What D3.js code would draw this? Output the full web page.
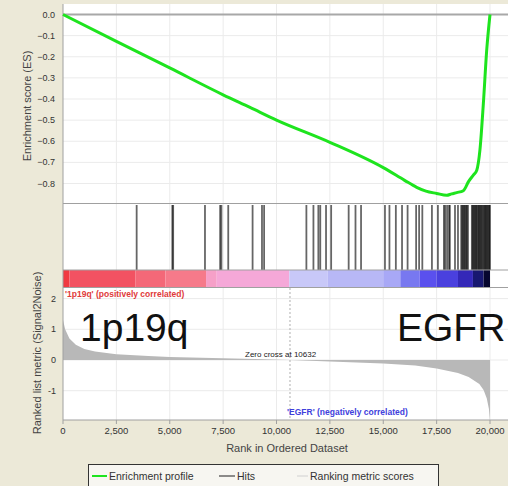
<!DOCTYPE html>
<html>
<head>
<meta charset="utf-8">
<script src="https://cdn.jsdelivr.net/npm/d3@7"></script>
<style>
body { margin: 0; background: #ece9d8; overflow: hidden; }
text { font-family: "Liberation Sans", Arial, sans-serif; }
</style>
</head>
<body>
<svg id="chart" width="508" height="486"></svg>
<script>
// running enrichment score
const esRanks  = [0, 2500, 5000, 7500, 8760, 10000, 12500, 15000, 16000, 16565, 17000, 17500, 17970, 18200, 18440, 18750, 19000, 19220, 19380, 19530, 19690, 19845, 20000]
const esValues = [0, -0.127, -0.253, -0.38, -0.44, -0.50, -0.605, -0.725, -0.785, -0.818, -0.836, -0.847, -0.856, -0.849, -0.843, -0.834, -0.79, -0.76, -0.737, -0.64, -0.42, -0.17, 0]

// positions of the gene set members in the ranked list
const hitRanks = [3450, 5120, 5160, 6650, 7360, 7420, 7740, 8880, 9320, 9420,
  11400, 11730, 11960, 12050, 12320, 12560, 13380, 13700, 13960,
  15080, 15290, 15590, 15880, 16140, 16540, 16680, 16830, 17280, 17560,
  17840, 17900, 17990, 18080, 18120, 18360, 18500,
  18650, 18700, 18740, 18790, 18830, 18880, 18920, 18970,
  19150, 19190, 19230, 19270, 19310, 19350, 19390, 19440, 19480, 19520,
  19560, 19600, 19640, 19690, 19730, 19770, 19810, 19850, 19890, 19930, 19970, 19995]

// ranked list metric (Signal2Noise)
const metricRanks  = [0, 100, 300, 600, 1000, 1500, 2500, 4000, 5000, 7000, 9000, 10632, 12500, 15000, 16500, 17500, 18500, 19000, 19500, 19700, 19850, 19950, 20000]
const metricValues = [1.3, 1.0, 0.7, 0.5, 0.36, 0.28, 0.19, 0.13, 0.1, 0.065, 0.03, 0, -0.05, -0.11, -0.18, -0.28, -0.42, -0.55, -0.78, -0.98, -1.25, -1.6, -1.97]

// colour bar blocks (end rank of each block)
const barEnds   = [300, 3400, 4800, 6700, 7200, 10600, 12400, 15000, 15800, 16700, 17500, 18500, 19200, 19700, 20000]
const barColors = ["#f03a42", "#f25262", "#f46878", "#f67a8a", "#f6a0c8", "#f5a8d8", "#c8c8f8", "#b8b8f6", "#a8a8f6", "#7878f0", "#5a50ee", "#4a40de", "#3428b8", "#181870", "#06062e"]

const xTicks = [0, 2500, 5000, 7500, 10000, 12500, 15000, 17500, 20000]
const esTicks = [0, -0.1, -0.2, -0.3, -0.4, -0.5, -0.6, -0.7, -0.8]
const metricTicks = [2, 1, 0, -1]
const zeroCross = 10632

let svg = d3.select("#chart")
let left = 63, right = 512
let x = d3.scaleLinear().domain([0, 20000]).range([63, 490])
let yES = d3.scaleLinear().domain([0, -0.8]).range([14.5, 183.5])
let yM = d3.scaleLinear().domain([0, 1]).range([360, 329.3])

svg.append("rect").attr("width", 508).attr("height", 486).attr("fill", "#ece9d8")
svg.append("rect")
   .attr("x", left).attr("y", 4)
   .attr("width", right - left).attr("height", 416)
   .attr("fill", "white")

// grid
svg.append("g").selectAll("line")
   .data(xTicks.slice(1))
   .join("line")
   .attr("x1", d => x(d)).attr("x2", d => x(d))
   .attr("y1", 4).attr("y2", 420)
   .style("stroke", "#ebebeb")
svg.append("g").selectAll("line")
   .data(esTicks.slice(1))
   .join("line")
   .attr("x1", left).attr("x2", right)
   .attr("y1", d => yES(d)).attr("y2", d => yES(d))
   .style("stroke", "#ebebeb")
svg.append("g").selectAll("line")
   .data(metricTicks)
   .join("line")
   .attr("x1", left).attr("x2", right)
   .attr("y1", d => yM(d)).attr("y2", d => yM(d))
   .style("stroke", "#ebebeb")

// zero line of ES
svg.append("line")
   .attr("x1", left).attr("x2", right)
   .attr("y1", yES(0)).attr("y2", yES(0))
   .style("stroke", "#a8a8a8").style("stroke-width", 2)

// metric area
let area = d3.area()
   .x((d, i) => x(metricRanks[i]))
   .y0(yM(0))
   .y1(d => yM(d))
svg.append("path")
   .datum(metricValues)
   .attr("d", area)
   .attr("fill", "#b8b8b8")

svg.append("line")
   .attr("x1", x(zeroCross)).attr("x2", x(zeroCross))
   .attr("y1", 288).attr("y2", 420)
   .style("stroke", "#b0b0b0").style("stroke-dasharray", "2,2")

// hits
svg.append("g").selectAll("line")
   .data(hitRanks)
   .join("line")
   .attr("x1", d => x(d)).attr("x2", d => x(d))
   .attr("y1", 205).attr("y2", 270)
   .style("stroke", "#000").style("stroke-width", 1.8)
   .style("stroke-opacity", 0.6)

// colour bar
svg.append("g").selectAll("rect")
   .data(barEnds)
   .join("rect")
   .attr("x", (d, i) => x(i == 0 ? 0 : barEnds[i - 1]))
   .attr("width", (d, i) => x(d) - x(i == 0 ? 0 : barEnds[i - 1]))
   .attr("y", 270).attr("height", 17)
   .attr("fill", (d, i) => barColors[i])

// panel borders
svg.append("g").selectAll("line")
   .data([203.5, 270, 287.5, 420])
   .join("line")
   .attr("x1", left).attr("x2", right)
   .attr("y1", d => d).attr("y2", d => d)
   .style("stroke", "#a0a0a0")
svg.append("line")
   .attr("x1", left).attr("x2", left)
   .attr("y1", 4).attr("y2", 420)
   .style("stroke", "#a0a0a0")

// ES curve
let line = d3.line()
   .x((d, i) => x(esRanks[i]))
   .y(d => yES(d))
   .curve(d3.curveMonotoneX)
svg.append("path")
   .datum(esValues)
   .attr("d", line)
   .attr("fill", "none")
   .style("stroke", "#1ee41e").style("stroke-width", 3)

// axes ticks and labels
svg.append("g").selectAll("line")
   .data(xTicks)
   .join("line")
   .attr("x1", d => x(d)).attr("x2", d => x(d))
   .attr("y1", 420).attr("y2", 424)
   .style("stroke", "#a0a0a0")
svg.append("g").selectAll("text")
   .data(xTicks)
   .join("text")
   .attr("x", d => x(d)).attr("y", 434)
   .attr("text-anchor", "middle")
   .style("font-size", "9.5px").style("fill", "#333")
   .text(d => d3.format(",")(d))
svg.append("g").selectAll("text")
   .data(esTicks)
   .join("text")
   .attr("x", 55).attr("y", d => yES(d) + 3)
   .attr("text-anchor", "end")
   .style("font-size", "9px").style("fill", "#333")
   .text(d => d3.format(".1f")(d))
svg.append("g").selectAll("text")
   .data(metricTicks)
   .join("text")
   .attr("x", 56).attr("y", d => yM(d) + 3)
   .attr("text-anchor", "end")
   .style("font-size", "9px").style("fill", "#333")
   .text(d => d)

svg.append("text")
   .attr("transform", "translate(31,106) rotate(-90)")
   .attr("text-anchor", "middle")
   .style("font-size", "11px").style("fill", "#444")
   .text("Enrichment score (ES)")
svg.append("text")
   .attr("transform", "translate(41,353) rotate(-90)")
   .attr("text-anchor", "middle")
   .style("font-size", "11px").style("fill", "#444")
   .text("Ranked list metric (Signal2Noise)")
svg.append("text")
   .attr("x", 287).attr("y", 452)
   .attr("text-anchor", "middle")
   .style("font-size", "11px").style("fill", "#444")
   .text("Rank in Ordered Dataset")

// annotations
svg.append("text")
   .attr("x", 65).attr("y", 297)
   .style("font-size", "8.5px").style("font-weight", "bold").style("fill", "#e03a3a")
   .text("'1p19q' (positively correlated)")
svg.append("text")
   .attr("x", 287).attr("y", 415)
   .style("font-size", "8.5px").style("font-weight", "bold").style("fill", "#4040dc")
   .text("'EGFR' (negatively correlated)")
svg.append("text")
   .attr("x", 245).attr("y", 357)
   .style("font-size", "8px").style("fill", "#222")
   .text("Zero cross at " + zeroCross)
svg.append("text")
   .attr("x", 80).attr("y", 341)
   .style("font-size", "39px").style("fill", "#111")
   .text("1p19q")
svg.append("text")
   .attr("x", 397).attr("y", 341)
   .style("font-size", "39px").style("fill", "#111")
   .text("EGFR")

// legend
let legend = svg.append("g")
legend.append("rect")
   .attr("x", 88.5).attr("y", 464.5)
   .attr("width", 350).attr("height", 30)
   .attr("fill", "#f7f6f1")
   .style("stroke", "#333")
let items = [
  {label: "Enrichment profile", color: "#1ee41e", x1: 92, x2: 107, w: 2},
  {label: "Hits", color: "#444", x1: 219, x2: 235, w: 1.2},
  {label: "Ranking metric scores", color: "#d0d0d0", x1: 297, x2: 308, w: 1}
]
legend.selectAll("line")
   .data(items)
   .join("line")
   .attr("x1", d => d.x1).attr("x2", d => d.x2)
   .attr("y1", 476).attr("y2", 476)
   .style("stroke", d => d.color).style("stroke-width", d => d.w)
legend.selectAll("text")
   .data(items)
   .join("text")
   .attr("x", d => d.x2 + 2).attr("y", 480)
   .style("font-size", "10.5px").style("fill", "#333")
   .text(d => d.label)
</script>
</body>
</html>
